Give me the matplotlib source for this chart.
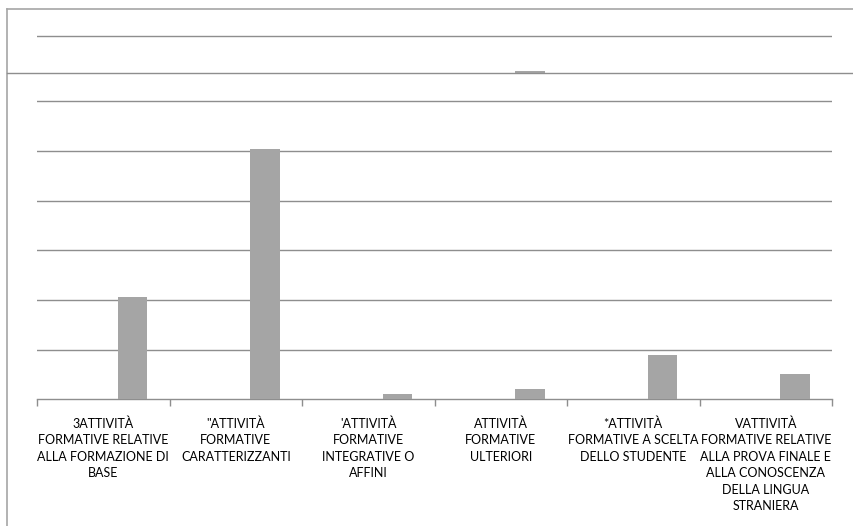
import numpy as np
import matplotlib
matplotlib.use("Agg")
import matplotlib.pyplot as plt
from matplotlib.lines import Line2D

# categories and values (one gridline = 10)
categories = [
    "3ATTIVITÀ\nFORMATIVE RELATIVE\nALLA FORMAZIONE DI\nBASE",
    "\"ATTIVITÀ\nFORMATIVE\nCARATTERIZZANTI",
    "'ATTIVITÀ\nFORMATIVE\nINTEGRATIVE O\nAFFINI",
    "ATTIVITÀ\nFORMATIVE\nULTERIORI",
    "*ATTIVITÀ\nFORMATIVE A SCELTA\nDELLO STUDENTE",
    "VATTIVITÀ\nFORMATIVE RELATIVE\nALLA PROVA FINALE E\nALLA CONOSCENZA\nDELLA LINGUA\nSTRANIERA",
]
values = [20.5, 50.4, 1.0, 2.0, 9.0, 5.1]
grid_values = [0, 10, 20, 30, 40, 50, 60]

# ghost strip at the top of the picture (a rendering leftover)
ghost_grid = 73.1
ghost_base = 65.6
ghost_values = [0, 0, 0, 0.45, 0, 0]

W, H = 854, 526
fig = plt.figure(figsize=(W / 100, H / 100), dpi=100)
plt.rcParams['font.family'] = ['Lato', 'DejaVu Sans']

grid_col = "#8E8E8E"
bar_col = "#A5A5A5"
frame_col = "#A6A6A6"

# main plot area in pixels
left, right, bottom, top = 37, 832, 399.3, 30
ax = fig.add_axes([left / W, (H - bottom) / H, (right - left) / W, (bottom - top) / H])
ax.set_xlim(-0.5, len(categories) - 0.5)
ax.set_ylim(0, (bottom - top) / 4.97)

x = np.arange(len(categories))
ax.bar(x + 0.22, values, width=0.222, color=bar_col, zorder=3)
ax.bar(x + 0.22, ghost_values, width=0.222, bottom=ghost_base, color=bar_col, zorder=3)

for g in grid_values[1:]:
    ax.axhline(g, color=grid_col, lw=1, zorder=1)
ax.axhline(ghost_grid, color=grid_col, lw=1, zorder=1)

for s in ["top", "right", "left"]:
    ax.spines[s].set_visible(False)
ax.spines["bottom"].set_color(grid_col)
ax.spines["bottom"].set_linewidth(1)
ax.set_yticks([])

ax.set_xticks(x)
ax.set_xticklabels(categories, fontsize=9.0, color="#000000", linespacing=1.45, va="top")
ax.tick_params(axis="x", which="major", length=0, pad=13)
ax.set_xticks(np.arange(len(categories) + 1) - 0.5, minor=True)
ax.tick_params(axis="x", which="minor", length=5, color=grid_col, width=1)

# outer frame and stray line
fig.add_artist(Line2D([7 / W, 7 / W], [0, 1 - 8.5 / H], color=frame_col, lw=1.2))
fig.add_artist(Line2D([7 / W, 1], [1 - 8.5 / H, 1 - 8.5 / H], color=frame_col, lw=1.2))
fig.add_artist(Line2D([7 / W, 1], [1 - 73 / H, 1 - 73 / H], color=grid_col, lw=1))

fig.savefig("out.png", dpi=100)
